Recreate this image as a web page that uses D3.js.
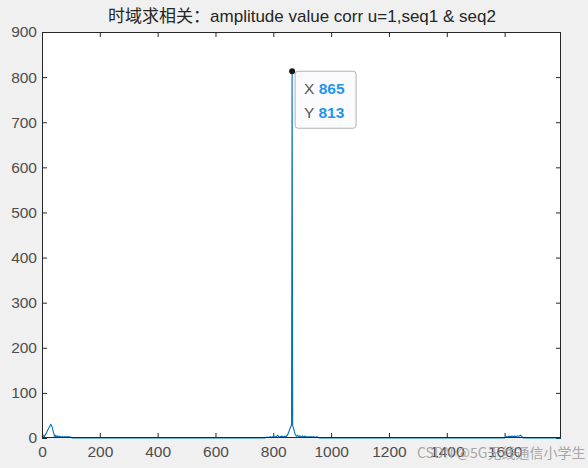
<!DOCTYPE html>
<html><head><meta charset="utf-8">
<script src="https://cdn.jsdelivr.net/npm/d3@7/dist/d3.min.js"></script>
<style>body{margin:0;background:#f0f0f0;}svg{display:block;}</style>
</head><body>
<svg id="c" width="588" height="468"></svg>
<script>
const titleText = "时域求相关：amplitude value corr u=1,seq1 & seq2";
const lagValues = [0,4,8,12,16,20,25,30,33,36,40,43,46,48,52,56,60,65,70,75,80,85,90,95,100,104,
  770,780,785,790,795,800,805,810,815,820,825,830,835,840,845,850,855,860,863,865,867,870,873,876,880,884,888,892,896,900,905,910,915,920,925,930,935,940,945,950,955,960,
  1600,1605,1610,1615,1620,1625,1630,1635,1640,1645,1650,1655,1660,1665,1795];
const corrValues = [2,6,3,8,12,18,24,30,28,22,12,4,6,2,5,3,4,2,3,2,3,2,3,2,2,0,
  0,2,1,3,1,4,2,3,6,2,3,4,2,4,3,8,16,25,28,813,27,22,14,7,4,6,3,5,2,4,3,4,2,3,2,3,2,3,1,3,1,0,
  0,3,2,4,3,4,3,4,3,5,4,6,3,0,0];
const xTicks = [0,200,400,600,800,1000,1200,1400,1600];
const yTicks = [0,100,200,300,400,500,600,700,800,900];
const tipX = 865, tipY = 813;

const svg = d3.select("#c");
const L=42, R=561, T=32, B=438;
const x = d3.scaleLinear().domain([0,1795]).range([L,R]);
const y = d3.scaleLinear().domain([0,900]).range([B,T]);

svg.append("rect").attr("x",L).attr("y",T).attr("width",R-L).attr("height",B-T).attr("fill","#fff");

const font = "'Liberation Sans', Arial, sans-serif";
function styleAx(g){
  g.select(".domain").remove();
  g.selectAll("line").attr("stroke","#262626");
  g.selectAll("text").attr("fill","#4d4d4d").style("font-family",font).style("font-size","15.5px");
}
const fmt = d3.format("d");
svg.append("g").attr("transform",`translate(0,${B})`)
  .call(d3.axisBottom(x).tickValues(xTicks).tickFormat(fmt).tickSizeInner(-5).tickSizeOuter(0).tickPadding(8))
  .call(styleAx);
svg.append("g").attr("transform",`translate(0,${T})`)
  .call(d3.axisTop(x).tickValues(xTicks).tickSizeInner(-5).tickSizeOuter(0).tickFormat(""))
  .call(styleAx);
svg.append("g").attr("transform",`translate(${L},0)`)
  .call(d3.axisLeft(y).tickValues(yTicks).tickFormat(fmt).tickSizeInner(-5).tickSizeOuter(0).tickPadding(5))
  .call(styleAx);
svg.append("g").attr("transform",`translate(${R},0)`)
  .call(d3.axisRight(y).tickValues(yTicks).tickSizeInner(-5).tickSizeOuter(0).tickFormat(""))
  .call(styleAx);

const data = lagValues.map((v,i)=>[v,corrValues[i]]);
svg.append("path").datum(data)
  .attr("d", d3.line().x(d=>x(d[0])).y(d=>y(d[1])))
  .attr("fill","none").attr("stroke","#0072bd").attr("stroke-width",1.1);

svg.append("rect").attr("x",L+0.5).attr("y",T+0.5).attr("width",R-L-1).attr("height",B-T-1)
  .attr("fill","none").attr("stroke","#262626").attr("stroke-width",1);

// title
svg.append("text").attr("x",302).attr("y",22).attr("text-anchor","middle")
  .attr("fill","#262626").style("font-family","'Liberation Sans','Noto Sans CJK SC',sans-serif").style("font-size","17px")
  .text(titleText);

// data tip
const px = x(tipX), py = y(tipY);
svg.append("rect").attr("x",px+3).attr("y",py).attr("width",61).attr("height",57).attr("rx",3)
  .attr("fill","#fbfbfd").attr("stroke","#b3b3b3").attr("stroke-width",1);
svg.append("circle").attr("cx",px).attr("cy",py).attr("r",3).attr("fill","#1a1a1a");
const tg = svg.append("g").style("font-family",font).style("font-size","15.5px");
const t1 = tg.append("text").attr("x",px+12).attr("y",py+23);
t1.append("tspan").attr("fill","#555").text("X ");
t1.append("tspan").attr("fill","#1e96f0").attr("font-weight","bold").text(String(tipX));
const t2 = tg.append("text").attr("x",px+12).attr("y",py+47);
t2.append("tspan").attr("fill","#555").text("Y ");
t2.append("tspan").attr("fill","#1e96f0").attr("font-weight","bold").text(String(tipY));

// watermark
svg.append("text").attr("x",417).attr("y",458).attr("fill","#a0a0a0").attr("opacity",0.9)
  .style("font-family","'Noto Sans CJK SC',sans-serif").style("font-size","14px")
  .text("CSDN @5G无线通信小学生");
</script>
</body></html>
